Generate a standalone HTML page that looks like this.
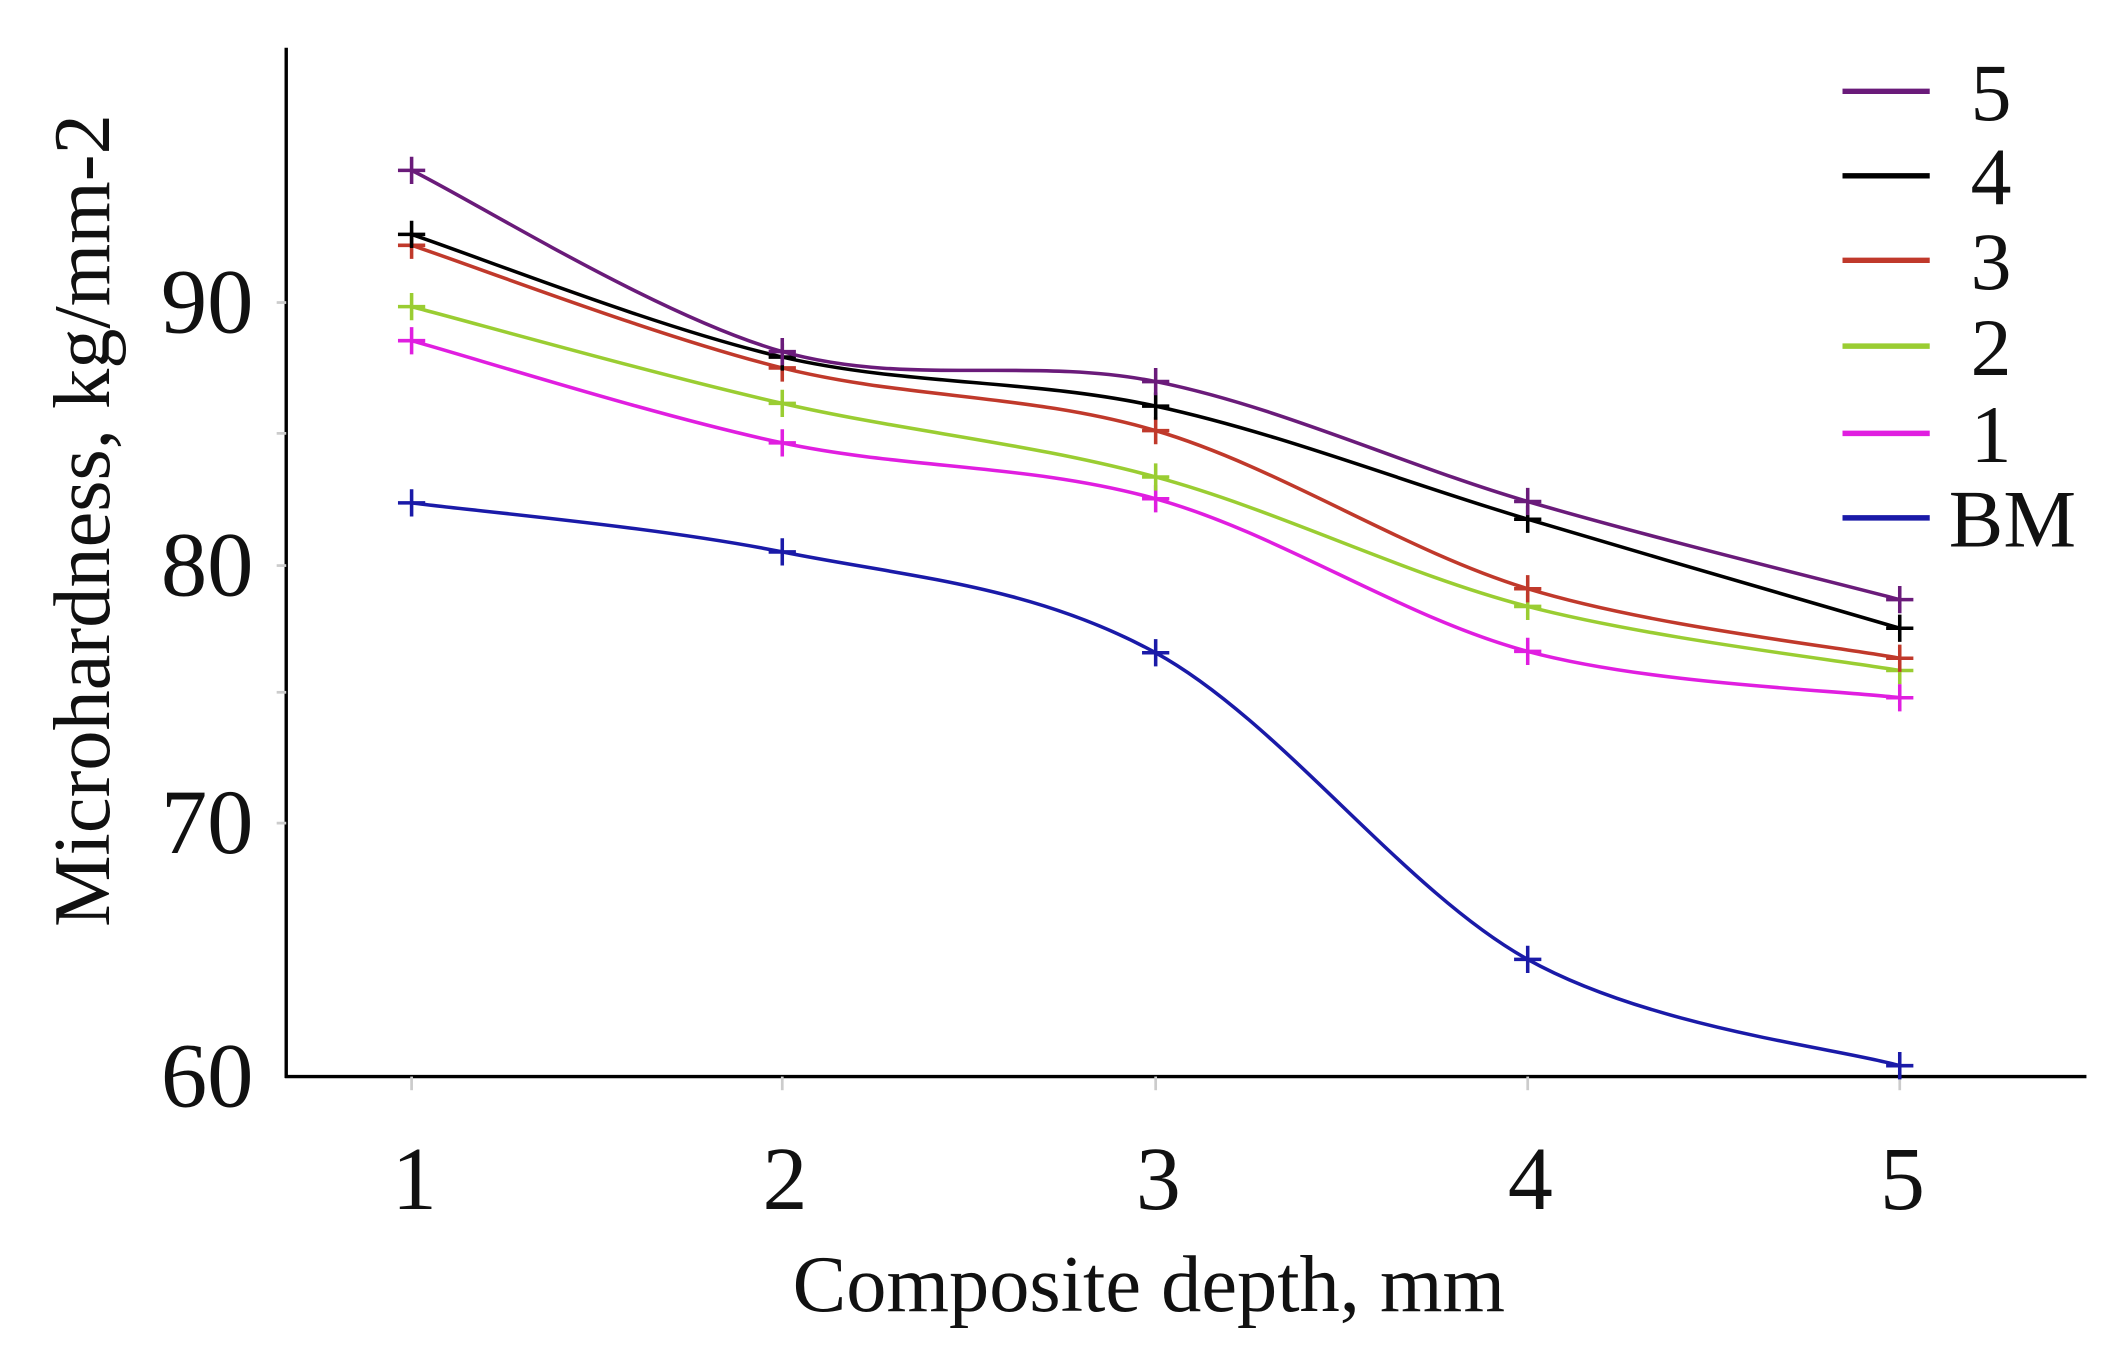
<!DOCTYPE html>
<html><head><meta charset="utf-8"><style>
html,body{margin:0;padding:0;background:#fff;}
svg{display:block;}
text{font-family:"Liberation Serif",serif;fill:#111;}
</style></head><body>
<svg id="s" width="2126" height="1358" viewBox="0 0 1560 996.5" xmlns="http://www.w3.org/2000/svg">
<rect width="1560" height="996.5" fill="#fff"/>
<line x1="210" y1="35" x2="210" y2="791" stroke="#000" stroke-width="2.5"/>
<line x1="209" y1="790" x2="1531" y2="790" stroke="#000" stroke-width="2.5"/>
<g stroke="#ccc" stroke-width="2">
<line x1="203" y1="222" x2="210" y2="222"/><line x1="203" y1="318" x2="210" y2="318"/>
<line x1="203" y1="415" x2="210" y2="415"/><line x1="203" y1="508" x2="210" y2="508"/>
<line x1="203" y1="604" x2="210" y2="604"/>
<line x1="302" y1="790" x2="302" y2="800"/><line x1="574" y1="790" x2="574" y2="800"/>
<line x1="848" y1="790" x2="848" y2="800"/><line x1="1121" y1="790" x2="1121" y2="800"/>
<line x1="1394" y1="790" x2="1394" y2="800"/>
</g>
<g font-size="68" text-anchor="end">
<text x="186" y="244">90</text>
<text x="186" y="437">80</text>
<text x="186" y="626">70</text>
<text x="186" y="812">60</text>
</g>
<g font-size="66" text-anchor="middle">
<text x="304" y="887">1</text>
<text x="576" y="887">2</text>
<text x="850" y="887">3</text>
<text x="1123" y="887">4</text>
<text x="1396" y="887">5</text>
</g>
<text x="843" y="962" font-size="59" text-anchor="middle">Composite depth, mm</text>
<text transform="translate(80,382) rotate(-90)" font-size="59" text-anchor="middle">Microhardness, kg/mm-2</text>
<g stroke-width="4">
<line x1="1352" y1="67" x2="1416" y2="67" stroke="#6a1b7a"/>
<line x1="1352" y1="129" x2="1416" y2="129" stroke="#000"/>
<line x1="1352" y1="191" x2="1416" y2="191" stroke="#c0392b"/>
<line x1="1352" y1="254" x2="1416" y2="254" stroke="#9acd32"/>
<line x1="1352" y1="318" x2="1416" y2="318" stroke="#e01ee0"/>
<line x1="1352" y1="380" x2="1416" y2="380" stroke="#1a1aa8"/>
</g>
<g font-size="60">
<text x="1446" y="88">5</text>
<text x="1446" y="150">4</text>
<text x="1446" y="212">3</text>
<text x="1446" y="275">2</text>
<text x="1446" y="339">1</text>
<text x="1430" y="401">BM</text>
</g>
<g id="series"></g>
</svg>
<script>
var xs=[302,574,848,1121,1394];
var data=[
["#1a1aa8",[369,405,479,704,782]],
["#e01ee0",[250,325,366,478,512]],
["#9acd32",[225,296,350,445,492]],
["#c0392b",[180,270,316,432,483]],
["#000000",[172,262,298,381,461]],
["#6a1b7a",[125,258,280,368,440]]
];
var g=document.getElementById('series'),h='';
data.forEach(function(s){
 var c=s[0],y=s[1],p=xs.map(function(x,i){return [x,y[i]];});
 var d='M'+p[0][0]+','+p[0][1];
 for(var i=0;i<p.length-1;i++){
  var p0=p[i-1]||p[i],p1=p[i],p2=p[i+1],p3=p[i+2]||p[i+1];
  var c1=[p1[0]+(p2[0]-p0[0])/6,p1[1]+(p2[1]-p0[1])/6];
  var c2=[p2[0]-(p3[0]-p1[0])/6,p2[1]-(p3[1]-p1[1])/6];
  d+=' C'+c1[0]+','+c1[1]+' '+c2[0]+','+c2[1]+' '+p2[0]+','+p2[1];
 }
 h+='<path d="'+d+'" fill="none" stroke="'+c+'" stroke-width="2.6"/>';
 p.forEach(function(q){
  h+='<path d="M'+(q[0]-10)+','+q[1]+'h20M'+q[0]+','+(q[1]-10)+'v20" stroke="'+c+'" stroke-width="2.6"/>';
 });
});
g.innerHTML=h;
</script>
</body></html>
